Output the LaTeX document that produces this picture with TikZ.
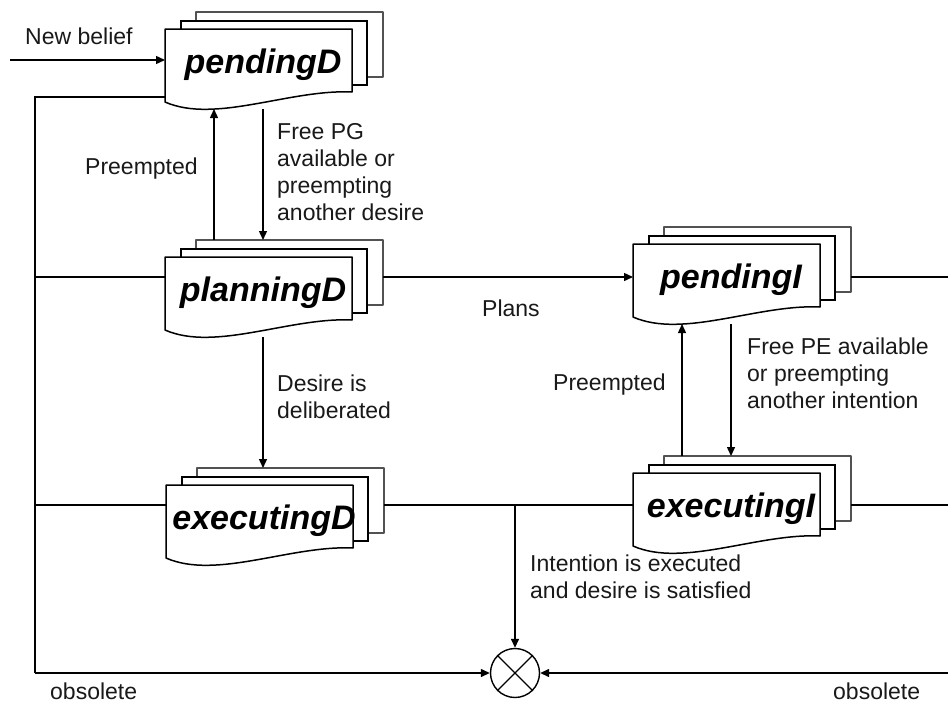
\documentclass[tikz,border=0pt]{standalone}
\usepackage{fontspec}
\setmainfont{Liberation Sans}
\usetikzlibrary{arrows.meta,calc}

\tikzset{
  conn/.style={line width=1.4pt, draw=black},
  arr/.style={conn, -{Triangle[length=9pt,width=8pt]}},
  backsheet/.style={draw=black!68, line width=2pt, fill=white, line join=round},
  midsheet/.style={draw=black, line width=1.5pt, fill=white},
  frontsheet/.style={draw=black, line width=1.5pt, fill=white, line join=round},
  title/.style={font=\fontsize{34}{40}\selectfont\bfseries\itshape, inner sep=0pt, anchor=base},
  lbl/.style={font=\fontsize{23}{27}\selectfont, align=left, inner sep=0pt, anchor=north west, text=black!90},
  hidden/.style={inner sep=0pt, anchor=north west, draw=none}
}

% A stack of three document sheets; #1 name, (#2,#3) top-left of the front sheet, #4 title
\newcommand{\docstack}[4]{%
  \begin{scope}[shift={(#2,#3)}]
    \draw[backsheet] (31,-17) rectangle (218,48);
    \draw[midsheet] (16,-8) rectangle (202,56);
    \draw[frontsheet] (0,0) -- (187,0) -- (187,63)
      .. controls (125,60) and (50,95) .. (0,73) -- cycle;
    \node[title] at (98,44) {#4};
    \node[hidden, minimum width=187pt, minimum height=80pt] (#1) at (0,0) {};
    \node[hidden, minimum width=187pt, minimum height=65pt] (#1-back) at (31,-17) {};
    \coordinate (#1-a) at (49,80);
    \coordinate (#1-b) at (98,80);
  \end{scope}}

\begin{document}
\begin{tikzpicture}[x=1pt, y=-1pt]
  \fill[white] (0,0) rectangle (948,704);
  \useasboundingbox (0,0) rectangle (948,704);

  % reference coordinates for the buses
  \coordinate (nb) at (10,60);
  \coordinate (busL) at (35,97);
  \coordinate (busB) at (35,673);
  \coordinate (row2) at (0,277);
  \coordinate (row3) at (0,505);
  \coordinate (edgeR) at (948,0);

  % merge point
  \node[circle, draw, line width=1.4pt, minimum size=49pt, inner sep=0pt, fill=white] (merge) at (515,673) {};
  \draw[line width=1.2pt] (merge.north east) -- (merge.south west);
  \draw[line width=1.2pt] (merge.north west) -- (merge.south east);

  % sheet stacks
  \docstack{pendingD}{165}{29}{pendingD}
  \docstack{planningD}{165}{257}{planningD}
  \docstack{pendingI}{633}{244}{pendingI}
  \docstack{executingD}{166}{485}{executingD}
  \docstack{executingI}{633}{473}{executingI}

  % incoming belief
  \draw[arr] (nb) -- (nb -| pendingD.west);

  % left bus (obsolete desires)
  \draw[conn] (pendingD.west |- busL) -- (busL) -- (busB);
  \draw[conn] (busL |- row2) -- (planningD.west |- row2);
  \draw[conn] (busL |- row3) -- (executingD.west |- row3);
  \draw[arr] (busB) -- (merge.west);

  % desire transitions
  \draw[arr] (pendingD-a |- planningD-back.north) -- (pendingD-a);
  \draw[arr] (pendingD-b) -- (pendingD-b |- planningD-back.north);
  \draw[arr] (planningD-b) -- (planningD-b |- executingD-back.north);
  \draw[arr] (planningD-back.east |- row2) -- (pendingI.west |- row2);

  % intention transitions
  \draw[arr] (pendingI-a |- executingI-back.north) -- (pendingI-a);
  \draw[arr] (pendingI-b) -- (pendingI-b |- executingI-back.north);

  % execution line and right bus
  \draw[conn] (executingD-back.east |- row3) -- (executingI.west |- row3);
  \draw[arr] (merge |- row3) -- (merge.north);
  \draw[conn] (pendingI-back.east |- row2) -- (edgeR |- row2);
  \draw[conn] (executingI-back.east |- row3) -- (edgeR |- row3);
  \draw[arr] (edgeR |- merge) -- (merge.east);

  % labels
  \node[lbl] (lNew) at (25,28) {New belief};
  \node[lbl] (lPreD) at (85,158) {Preempted};
  \node[lbl] (lFreePG) at (277,123) {Free PG\\available or\\preempting\\another desire};
  \node[lbl] (lPlans) at (482,300) {Plans};
  \node[lbl] (lDelib) at (277,375) {Desire is\\deliberated};
  \node[lbl] (lPreI) at (553,374) {Preempted};
  \node[lbl] (lFreePE) at (747,338) {Free PE available\\or preempting\\another intention};
  \node[lbl] (lExec) at (530,555) {Intention is executed\\and desire is satisfied};
  \node[lbl] (lObsL) at (50,683) {obsolete};
  \node[lbl] (lObsR) at (833,683) {obsolete};
\end{tikzpicture}
\end{document}
